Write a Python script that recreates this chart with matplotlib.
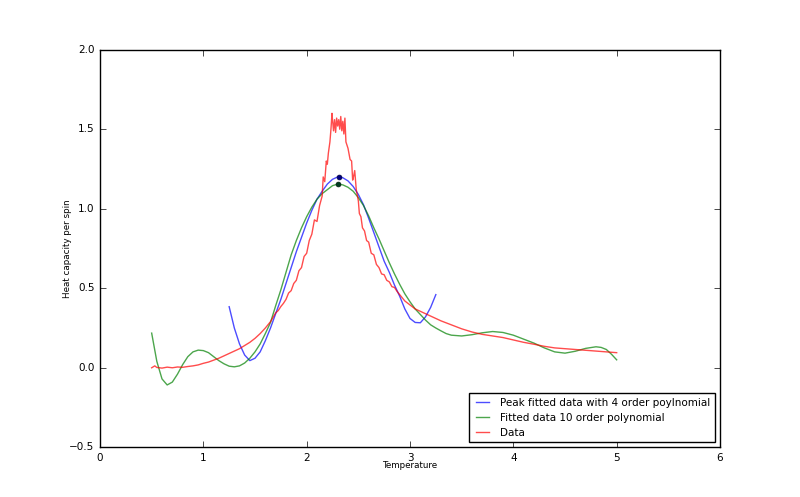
import matplotlib
matplotlib.use('Agg')
import matplotlib.pyplot as plt
import numpy as np

plt.style.use('classic')

# measured heat capacity (noisy data)
T_data = [0.50, 0.53, 0.55, 0.60, 0.65, 0.70, 0.75, 0.80, 0.85, 0.90, 0.95,
          1.00, 1.05, 1.10, 1.15, 1.20, 1.25, 1.30, 1.35, 1.40, 1.45, 1.50,
          1.55, 1.60, 1.65, 1.700, 1.725, 1.750, 1.775, 1.800, 1.825, 1.850,
          1.875, 1.900, 1.925, 1.950, 1.975, 2.000, 2.025, 2.050, 2.075,
          2.100, 2.125, 2.150, 2.160, 2.175, 2.190, 2.200, 2.210, 2.225,
          2.235, 2.245, 2.250, 2.260, 2.270, 2.280, 2.290, 2.300, 2.310,
          2.320, 2.330, 2.340, 2.350, 2.360, 2.370, 2.380, 2.400, 2.420,
          2.435, 2.445, 2.450, 2.465, 2.480, 2.500, 2.510, 2.525, 2.540,
          2.560, 2.580, 2.600, 2.625, 2.650, 2.675, 2.700, 2.725, 2.750,
          2.775, 2.800, 2.825, 2.850, 2.875, 2.900, 2.950, 3.00, 3.05,
          3.10, 3.15, 3.20, 3.30, 3.40, 3.50, 3.60, 3.70, 3.80, 3.90, 4.00,
          4.10, 4.20, 4.30, 4.40, 4.50, 4.60, 4.70, 4.80, 4.90, 5.00]
C_data = [0.000, 0.012, 0.002, -0.002, 0.004, 0.000, 0.005, 0.003, 0.008,
          0.012, 0.018, 0.028, 0.036, 0.048, 0.060, 0.075, 0.090, 0.105,
          0.120, 0.140, 0.160, 0.185, 0.215, 0.250, 0.290, 0.345, 0.360,
          0.385, 0.405, 0.430, 0.470, 0.485, 0.530, 0.550, 0.610, 0.630,
          0.700, 0.720, 0.800, 0.840, 0.930, 0.920, 1.020, 1.080, 1.200,
          1.170, 1.300, 1.280, 1.350, 1.420, 1.500, 1.600, 1.560, 1.490,
          1.560, 1.480, 1.570, 1.520, 1.560, 1.500, 1.580, 1.490, 1.550,
          1.470, 1.570, 1.420, 1.380, 1.310, 1.300, 1.180, 1.190, 1.240,
          1.120, 1.050, 0.970, 0.950, 0.880, 0.860, 0.800, 0.790, 0.720,
          0.710, 0.650, 0.630, 0.590, 0.585, 0.550, 0.540, 0.510, 0.505,
          0.480, 0.460, 0.420, 0.395, 0.370, 0.355, 0.340, 0.325, 0.295,
          0.270, 0.245, 0.225, 0.210, 0.200, 0.190, 0.175, 0.160, 0.148,
          0.135, 0.125, 0.120, 0.115, 0.110, 0.105, 0.100, 0.095]

# 4 order polynomial fitted around the peak
T_peak = [1.25, 1.30, 1.35, 1.40, 1.45, 1.50, 1.55, 1.60, 1.65, 1.70, 1.75,
          1.80, 1.85, 1.90, 1.95, 2.00, 2.05, 2.10, 2.15, 2.20, 2.25, 2.30,
          2.35, 2.40, 2.45, 2.50, 2.55, 2.60, 2.65, 2.70, 2.75, 2.80, 2.85,
          2.90, 2.95, 3.00, 3.05, 3.10, 3.15, 3.20, 3.25]
C_peak = [0.384, 0.250, 0.150, 0.080, 0.045, 0.060, 0.100, 0.170, 0.250,
          0.340, 0.430, 0.530, 0.630, 0.730, 0.820, 0.910, 0.990, 1.060,
          1.110, 1.155, 1.185, 1.200, 1.195, 1.175, 1.140, 1.090, 1.025,
          0.940, 0.850, 0.760, 0.670, 0.600, 0.520, 0.450, 0.370, 0.310,
          0.285, 0.283, 0.320, 0.380, 0.460]

# 10 order polynomial fitted on all data
T_fit = [0.50, 0.55, 0.60, 0.65, 0.70, 0.75, 0.80, 0.85, 0.90, 0.95, 1.00,
         1.05, 1.10, 1.15, 1.20, 1.25, 1.30, 1.35, 1.40, 1.45, 1.50, 1.55,
         1.60, 1.65, 1.70, 1.75, 1.80, 1.85, 1.90, 1.95, 2.00, 2.05, 2.10,
         2.15, 2.20, 2.25, 2.30, 2.35, 2.40, 2.45, 2.50, 2.55, 2.60, 2.65,
         2.70, 2.75, 2.80, 2.85, 2.90, 2.95, 3.00, 3.05, 3.10, 3.15, 3.20,
         3.25, 3.30, 3.35, 3.40, 3.50, 3.60, 3.70, 3.80, 3.90, 4.00, 4.10,
         4.20, 4.30, 4.40, 4.50, 4.60, 4.70, 4.80, 4.85, 4.90, 4.95, 5.00]
C_fit = [0.218, 0.040, -0.070, -0.108, -0.090, -0.040, 0.020, 0.070, 0.100,
         0.111, 0.108, 0.095, 0.070, 0.045, 0.025, 0.010, 0.006, 0.012,
         0.030, 0.060, 0.100, 0.150, 0.215, 0.285, 0.390, 0.490, 0.600,
         0.710, 0.800, 0.880, 0.950, 1.010, 1.060, 1.095, 1.120, 1.145,
         1.155, 1.150, 1.135, 1.110, 1.070, 1.020, 0.955, 0.880, 0.810,
         0.735, 0.660, 0.590, 0.525, 0.465, 0.415, 0.370, 0.335, 0.300,
         0.270, 0.250, 0.232, 0.215, 0.205, 0.200, 0.208, 0.220, 0.228,
         0.222, 0.205, 0.180, 0.155, 0.125, 0.100, 0.092, 0.104, 0.122,
         0.132, 0.128, 0.115, 0.085, 0.050]

# maxima of the two fits
peak_T = [2.31, 2.30]
peak_C = [1.200, 1.155]

fig = plt.figure(figsize=(8, 4.97), dpi=100, facecolor='white')
ax = fig.add_subplot(111)

ax.plot(T_peak, C_peak, color='b', lw=1, alpha=0.7,
        label='Peak fitted data with 4 order poylnomial')
ax.plot(T_fit, C_fit, color='g', lw=1, alpha=0.7,
        label='Fitted data 10 order polynomial')
ax.plot(T_data, C_data, color='r', lw=1, alpha=0.7, label='Data')
ax.plot(peak_T[0], peak_C[0], 'o', color='#000080', ms=3.5, mec='#000040')
ax.plot(peak_T[1], peak_C[1], 'o', color='#003a20', ms=3.5, mec='#002010')

ax.set_xlim(0, 6)
ax.set_ylim(-0.5, 2.0)
ax.set_xticks(np.arange(0, 7, 1))
ax.set_yticks(np.arange(-0.5, 2.01, 0.5))
ax.tick_params(labelsize=7.5)
ax.set_xlabel('Temperature', fontsize=6.3, labelpad=-1)
ax.set_ylabel('Heat capacity per spin', fontsize=6.3, labelpad=-2)
ax.legend(loc='lower right', fontsize=7.5, handlelength=1.8)

fig.savefig('out.png', dpi=100, facecolor='white')
